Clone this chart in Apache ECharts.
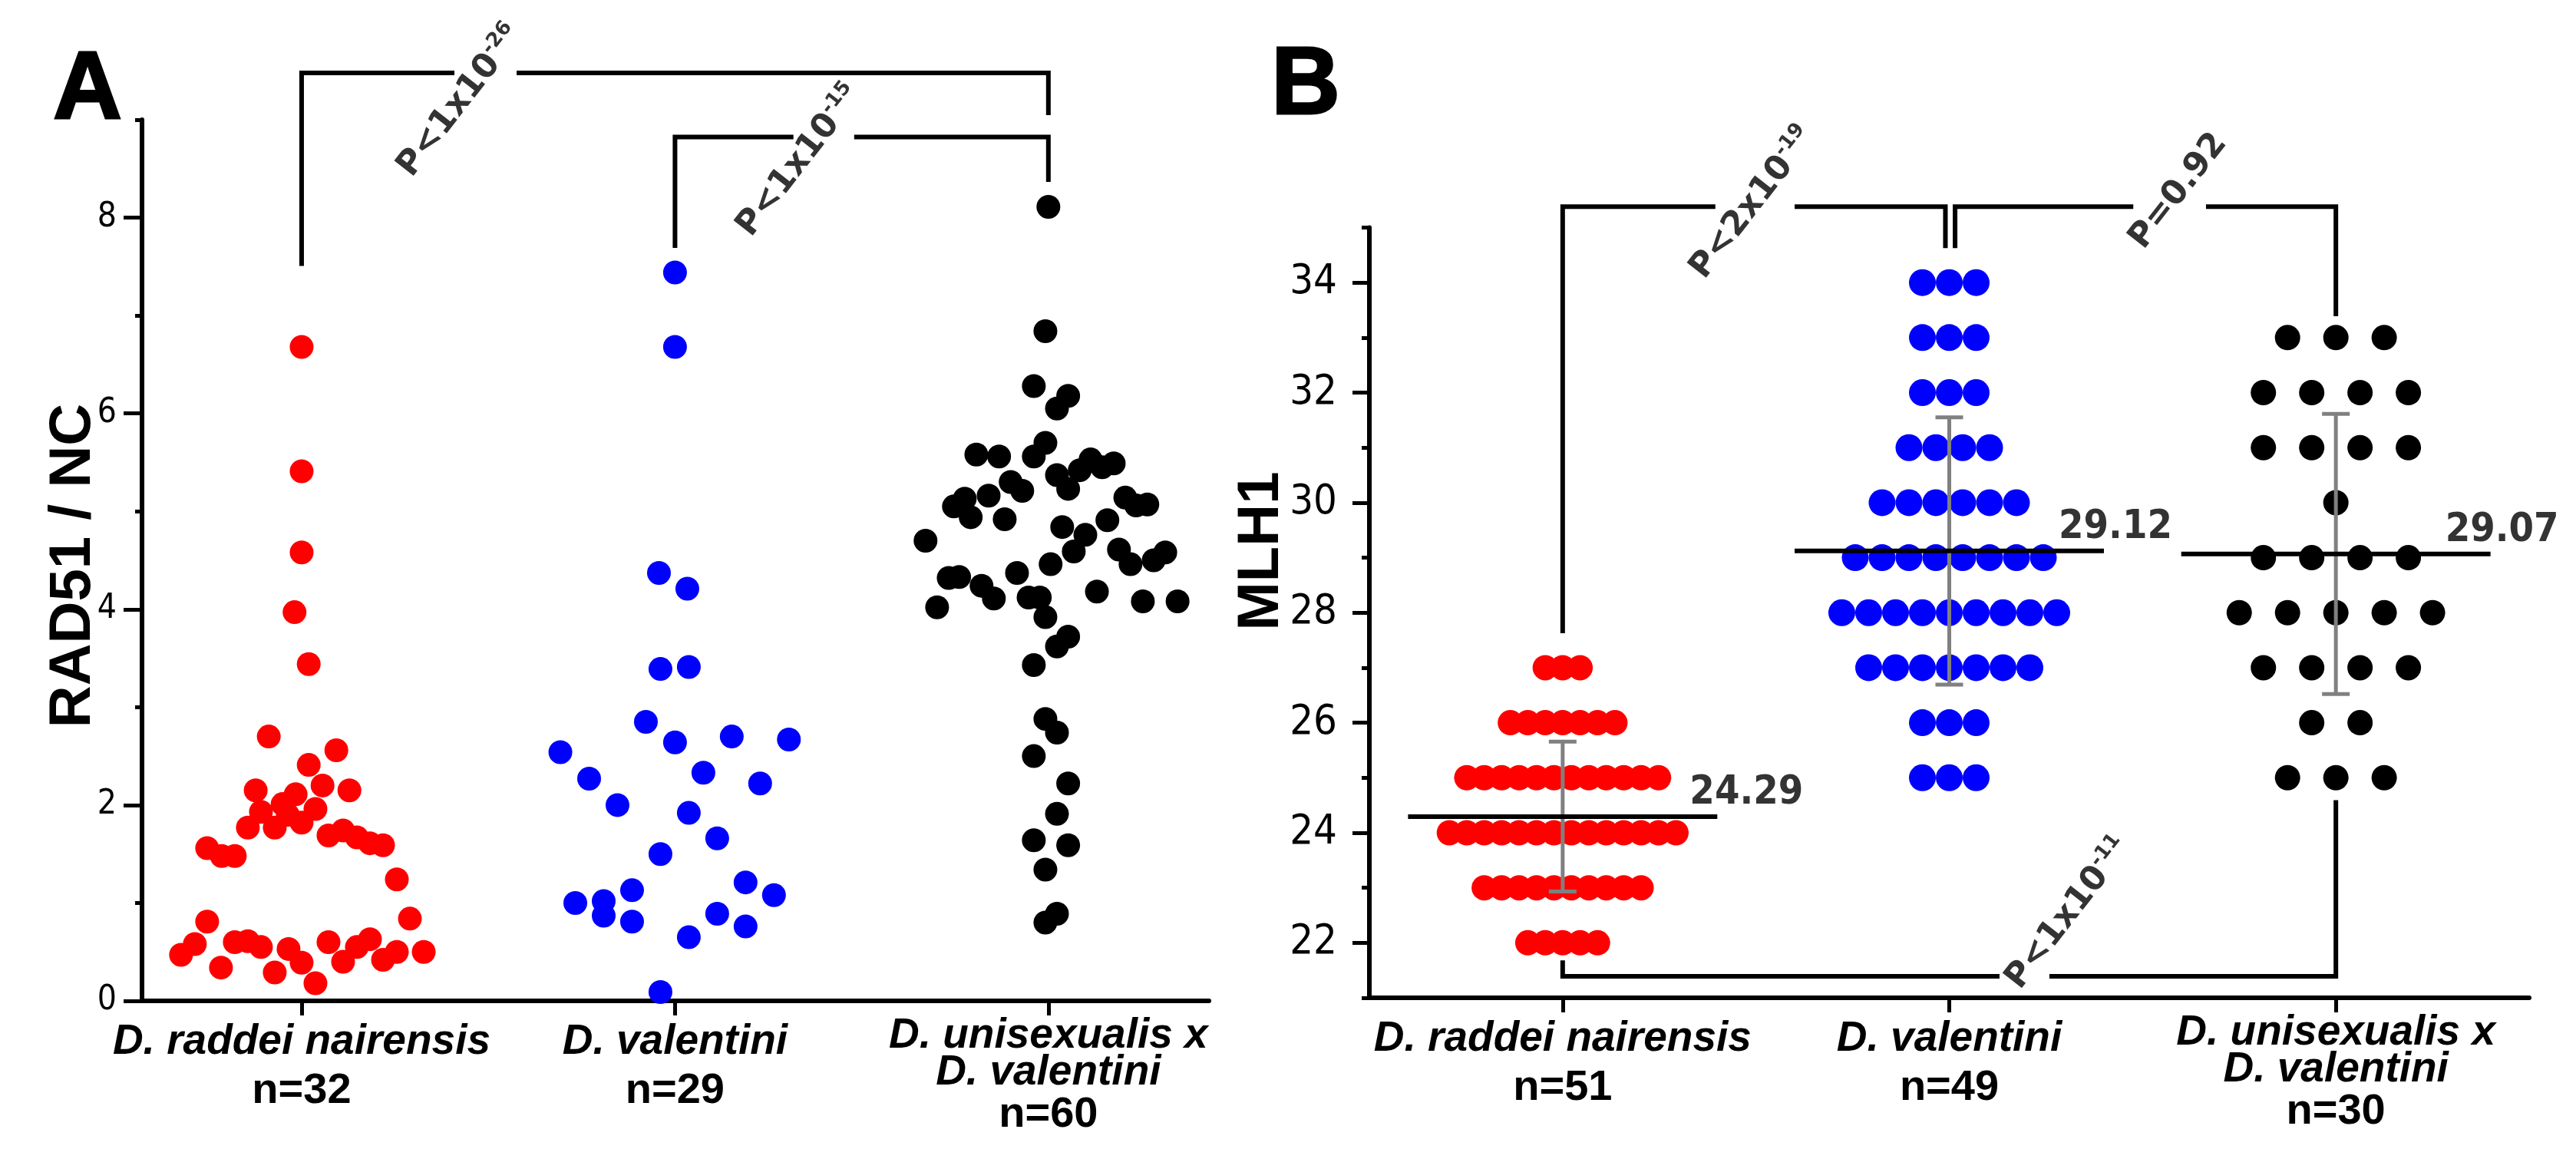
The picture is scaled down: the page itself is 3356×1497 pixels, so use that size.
<!DOCTYPE html>
<html>
<head>
<meta charset="utf-8">
<script src="https://cdn.jsdelivr.net/npm/echarts@6/dist/echarts.min.js"></script>
<style>
html,body{margin:0;padding:0;background:#ffffff;}
#chart{width:3356px;height:1497px;}
</style>
</head>
<body>
<div id="chart"></div>
<script>
// ================= DATA =================
const groupNames = ['D. raddei nairensis', 'D. valentini', 'D. unisexualis x\nD. valentini'];
const rad51N = [32, 29, 60];
const mlh1N = [51, 49, 30];

// Panel A: RAD51 / NC values and horizontal jitter (in category units)
const rad51Raddei = [6.68, 5.41, 4.58, 3.97, 3.44, 2.70, 2.56, 2.41, 2.15, 2.20, 2.15, 2.11, 2.01, 1.96, 1.93,
  1.90, 1.77, 1.77, 1.82, 1.69, 1.74, 1.67, 1.61, 1.59, 1.56, 1.48, 1.48, 1.24, 0.84, 0.81, 0.58, 0.47, 0.60,
  0.61, 0.55, 0.34, 0.53, 0.29, 0.39, 0.18, 0.60, 0.40, 0.55, 0.63, 0.42, 0.50, 0.50];
const rad51RaddeiJitter = [0, 0, 0, -0.019, 0.019, -0.088, 0.093, 0.019, -0.123, 0.056, 0.128, -0.016, -0.051, 0.037, -0.109,
  -0.037, -0.144, -0.072, 0, 0.072, 0.111, 0.148, 0.183, 0.218, -0.253, -0.214, -0.179, 0.255, 0.290, -0.253, -0.286, -0.323, -0.179,
  -0.144, -0.109, -0.216, -0.035, -0.072, 0, 0.037, 0.072, 0.111, 0.148, 0.183, 0.218, 0.255, 0.327];

const rad51Valentini = [7.44, 6.68, 4.37, 4.21, 3.39, 3.41, 2.85, 2.64, 2.70, 2.67, 2.54, 2.27, 2.33, 2.22,
  2.00, 1.92, 1.66, 1.50, 1.13, 1.21, 1.00, 1.02, 0.87, 0.81, 1.08, 0.89, 0.76, 0.65, 0.09];
const rad51ValentiniJitter = [0, 0, -0.043, 0.033, -0.039, 0.037, -0.078, 0, 0.152, 0.305, -0.307, -0.230, 0.076, 0.228,
  -0.154, 0.037, 0.113, -0.039, -0.115, 0.189, -0.267, -0.191, -0.191, -0.115, 0.265, 0.113, 0.189, 0.037, -0.039];

const rad51Hybrid = [8.11, 6.84, 6.28, 6.18, 6.05, 5.70, 5.56, 5.58, 5.56, 5.37,
  5.42, 5.53, 5.45, 5.49, 5.23, 5.30, 5.21, 5.13, 5.05, 4.94,
  5.16, 4.92, 5.14, 5.06, 5.07, 4.91, 4.84, 4.76, 4.59, 4.61,
  4.46, 4.50, 4.58, 4.70, 4.46, 4.37, 4.32, 4.33, 4.24, 4.11,
  4.02, 4.12, 4.12, 4.18, 4.08, 4.08, 3.92, 3.72, 3.62, 3.43,
  2.88, 2.74, 2.50, 2.22, 1.91, 1.64, 1.59, 1.34, 0.89, 0.80];
const rad51HybridJitter = [0, -0.008, -0.039, 0.053, 0.023, -0.008, -0.039, -0.193, -0.132, 0.023,
  0.084, 0.113, 0.144, 0.175, 0.053, -0.101, -0.070, -0.224, -0.253, -0.208,
  -0.160, -0.117, 0.206, 0.235, 0.265, 0.158, 0.037, 0.099, 0.068, 0.189,
  0.220, 0.282, 0.313, -0.329, 0.006, -0.084, -0.267, -0.239, -0.179, -0.146,
  -0.298, -0.053, -0.023, 0.130, 0.253, 0.346, -0.008, 0.053, 0.023, -0.039,
  -0.008, 0.023, -0.039, 0.053, 0.023, -0.039, 0.053, -0.008, 0.023, -0.008];

// Panel B: MLH1 counts (integer levels, number of cells at each level)
const mlh1RaddeiLevels = [22, 23, 24, 25, 26, 27];
const mlh1RaddeiCounts = [5, 10, 14, 12, 7, 3];
const mlh1ValentiniLevels = [25, 26, 27, 28, 29, 30, 31, 32, 33, 34];
const mlh1ValentiniCounts = [3, 3, 7, 9, 8, 6, 4, 3, 3, 3];
const mlh1HybridLevels = [25, 26, 27, 28, 29, 30, 31, 32, 33];
const mlh1HybridCounts = [3, 2, 4, 5, 4, 1, 4, 4, 3];

// Axis tick values
const rad51TickLabels = [0, 2, 4, 6, 8];
const rad51MinorTicks = [1, 3, 5, 7, 9];
const mlh1TickLabels = [22, 24, 26, 28, 30, 32, 34];
const mlh1MinorTicks = [21, 23, 25, 27, 29, 31, 33, 35];

// P-value annotations
const pTextsA = ['P<1x10|-26', 'P<1x10|-15'];
const pTextsB = ['P<2x10|-19', 'P=0.92', 'P<1x10|-11'];

// ================= BUILD =================
const FONT = "'Liberation Sans', Arial, Helvetica, sans-serif";
const NARROW = "'Liberation Sans Narrow', 'Arial Narrow', 'DejaVu Sans Condensed', 'Liberation Sans', sans-serif";
const PFONT = "'DejaVu Sans', Verdana, sans-serif";
const RED = '#ff0000', BLUE = '#0000ff', BLACK = '#000000', GREY = '#808080';

function jittered(center, vals, jit) {
  return vals.map((v, i) => [center + jit[i], v]);
}
function gridRows(center, levels, counts, step) {
  const pts = [];
  levels.forEach((lv, k) => {
    const c = counts[k];
    for (let i = 0; i < c; i++) pts.push([center + (i - (c - 1) / 2) * step, lv]);
  });
  return pts;
}
function expand(levels, counts) {
  const out = [];
  levels.forEach((lv, k) => { for (let i = 0; i < counts[k]; i++) out.push(lv); });
  return out;
}
function meanSd(arr) {
  const m = arr.reduce((a, b) => a + b, 0) / arr.length;
  const v = arr.reduce((a, b) => a + (b - m) * (b - m), 0) / (arr.length - 1);
  return [m, Math.sqrt(v)];
}

const mlhGroups = [
  expand(mlh1RaddeiLevels, mlh1RaddeiCounts),
  expand(mlh1ValentiniLevels, mlh1ValentiniCounts),
  expand(mlh1HybridLevels, mlh1HybridCounts)
];
const mlhStats = mlhGroups.map(meanSd);

function catLabel(nArr) {
  return function (val) {
    const i = Math.round(val) - 1;
    const lines = groupNames[i].split('\n');
    const multi = lines.length > 1;
    const sp = lines.map(l => '{' + (multi ? 'sp2' : 'sp') + '|' + l + '}').join('\n');
    return sp + '\n{' + (multi ? 'n2' : 'n') + '|n=' + nArr[i] + '}';
  };
}
const catRich = {
  sp: {fontFamily: FONT, fontSize: 55, fontWeight: 'bold', fontStyle: 'italic', lineHeight: 64, color: '#000'},
  n: {fontFamily: FONT, fontSize: 56, fontWeight: 'bold', lineHeight: 64, color: '#000'},
  sp2: {fontFamily: FONT, fontSize: 55, fontWeight: 'bold', fontStyle: 'italic', lineHeight: 48, color: '#000'},
  n2: {fontFamily: FONT, fontSize: 56, fontWeight: 'bold', lineHeight: 62, color: '#000'}
};

function xAxisDef(gridIndex, min, max, nArr) {
  return {
    gridIndex, type: 'value', min, max,
    axisLine: {show: true, onZero: false, lineStyle: {color: '#000', width: 6}},
    axisTick: {show: true, customValues: [1, 2, 3], length: 19, lineStyle: {color: '#000', width: 5}},
    axisLabel: {show: true, customValues: [1, 2, 3], margin: 22, formatter: catLabel(nArr), rich: catRich, align: 'center'},
    splitLine: {show: false}
  };
}
function yAxisDef(gridIndex, min, max, labels, fontSize, tickLen, margin) {
  return {
    gridIndex, type: 'value', min, max, position: 'left',
    axisLine: {show: true, onZero: false, lineStyle: {color: '#000', width: 6}},
    axisTick: {show: true, customValues: labels, length: tickLen, lineStyle: {color: '#000', width: 5}},
    axisLabel: {show: true, customValues: labels, fontFamily: NARROW, fontSize, color: '#000', margin},
    splitLine: {show: false}
  };
}
function yMinorDef(gridIndex, min, max, ticks, len) {
  return {
    gridIndex, type: 'value', min, max, position: 'left', offset: 0,
    axisLine: {show: false, onZero: false},
    axisTick: {show: true, customValues: ticks, length: len, lineStyle: {color: '#000', width: 5}},
    axisLabel: {show: false},
    splitLine: {show: false}
  };
}

function seg(xi, yi, pts) {
  return {
    type: 'line', xAxisIndex: xi, yAxisIndex: yi, data: pts, symbol: 'none', clip: false,
    silent: true, animation: false, z: 6,
    lineStyle: {color: '#000', width: 6, join: 'miter', cap: 'square'}
  };
}
function dotSeries(xi, yi, data, color, size) {
  return {
    type: 'scatter', xAxisIndex: xi, yAxisIndex: yi, data, symbol: 'circle', symbolSize: size,
    itemStyle: {color, opacity: 1}, animation: false, z: 2, clip: false
  };
}
function pLabelRich(txt) {
  const parts = txt.split('|');
  return '{m|' + parts[0] + '}' + (parts[1] ? '{s|' + parts[1] + '}' : '');
}
const pRich = {
  m: {fontFamily: PFONT, fontWeight: 'bold', fontSize: 44, lineHeight: 52, color: '#000'},
  s: {fontFamily: PFONT, fontWeight: 'bold', fontSize: 26, lineHeight: 28, verticalAlign: 'top', color: '#000'}
};
function pSeries(xi, yi, anchors, texts) {
  return {
    type: 'scatter', xAxisIndex: xi, yAxisIndex: yi, symbolSize: 0.1, clip: false, silent: true,
    itemStyle: {color: 'rgba(0,0,0,0)'}, animation: false, z: 7,
    data: anchors.map((a, i) => ({value: a, label: {formatter: pLabelRich(texts[i])}})),
    label: {show: true, position: 'inside', rotate: 52, rich: pRich}
  };
}

// bracket geometry (data coordinates) for annotations
const bracketsA = [
  [[1, 7.53], [1, 9.478], [1.403, 9.478]],
  [[1.582, 9.478], [3, 9.478], [3, 9.07]],
  [[2, 7.714], [2, 8.823], [2.311, 8.823]],
  [[2.486, 8.823], [3, 8.823], [3, 8.388]]
];
const bracketsB = [
  [[1, 27.67], [1, 35.38], [1.389, 35.38]],
  [[1.606, 35.38], [1.99, 35.38], [1.99, 34.67]],
  [[2.015, 34.67], [2.015, 35.38], [2.47, 35.38]],
  [[2.67, 35.38], [3, 35.38], [3, 33.43]],
  [[1, 21.64], [1, 21.39], [2.124, 21.39]],
  [[2.265, 21.39], [3, 21.39], [3, 24.55]]
];
const pAnchorsA = [[1.4255, 9.188], [2.334, 8.577]];
const pAnchorsB = [[1.4925, 35.44], [2.593, 35.66], [2.309, 22.53]];

const series = [
  dotSeries(0, 0, jittered(1, rad51Raddei, rad51RaddeiJitter), RED, 31),
  dotSeries(0, 0, jittered(2, rad51Valentini, rad51ValentiniJitter), BLUE, 31),
  dotSeries(0, 0, jittered(3, rad51Hybrid, rad51HybridJitter), BLACK, 31),
  dotSeries(1, 1, gridRows(1, mlh1RaddeiLevels, mlh1RaddeiCounts, 0.0451), RED, 33),
  dotSeries(1, 1, gridRows(2, mlh1ValentiniLevels, mlh1ValentiniCounts, 0.0695), BLUE, 35),
  dotSeries(1, 1, gridRows(3, mlh1HybridLevels, mlh1HybridCounts, 0.125), BLACK, 33),
  {
    type: 'custom', xAxisIndex: 1, yAxisIndex: 1, z: 4, silent: true, animation: false,
    data: mlhStats.map((s, i) => [i + 1, s[0] - s[1], s[0] + s[1]]),
    encode: {x: 0, y: [1, 2]},
    renderItem: function (params, api) {
      const x = api.value(0);
      const lo = api.coord([x, api.value(1)]);
      const hi = api.coord([x, api.value(2)]);
      const hw = 18;
      const st = {stroke: GREY, lineWidth: 5};
      return {type: 'group', children: [
        {type: 'line', shape: {x1: lo[0], y1: lo[1], x2: hi[0], y2: hi[1]}, style: st},
        {type: 'line', shape: {x1: lo[0] - hw, y1: lo[1], x2: lo[0] + hw, y2: lo[1]}, style: st},
        {type: 'line', shape: {x1: hi[0] - hw, y1: hi[1], x2: hi[0] + hw, y2: hi[1]}, style: st}
      ]};
    }
  }
];
mlhStats.forEach((s, i) => {
  series.push({
    type: 'line', xAxisIndex: 1, yAxisIndex: 1, symbol: 'none', silent: true, animation: false, z: 5,
    data: [[i + 1 - 0.4, s[0]], [i + 1 + 0.4, s[0]]],
    lineStyle: {color: '#000', width: 6}
  });
});
series.push({
  type: 'scatter', xAxisIndex: 1, yAxisIndex: 1, symbolSize: 0.1, silent: true, animation: false, z: 7,
  itemStyle: {color: 'rgba(0,0,0,0)'},
  data: mlhStats.map((s, i) => ({
    value: [i + 1 + 0.4, s[0]],
    label: {offset: [i === 0 ? -36 : -59, -30]}
  })),
  label: {
    show: true, position: 'right', distance: 0,
    formatter: p => p.value[1].toFixed(2),
    fontFamily: NARROW, fontWeight: 'bold', fontSize: 52, color: '#000'
  }
});
bracketsA.forEach(b => series.push(seg(0, 0, b)));
bracketsB.forEach(b => series.push(seg(1, 1, b)));
series.push(pSeries(0, 0, pAnchorsA, pTextsA));
series.push(pSeries(1, 1, pAnchorsB, pTextsB));

const option = {
  backgroundColor: '#ffffff',
  animation: false,
  grid: [
    {left: 185, top: 156, width: 1390, height: 1148},
    {left: 1784, top: 296.5, width: 1511, height: 1003.5}
  ],
  xAxis: [
    xAxisDef(0, 0.5725, 3.43, rad51N),
    xAxisDef(1, 0.5, 3.5, mlh1N)
  ],
  yAxis: [
    yAxisDef(0, 0, 9, rad51TickLabels, 44, 24, 33),
    yAxisDef(1, 21, 35, mlh1TickLabels, 54, 22, 42),
    yMinorDef(0, 0, 9, rad51MinorTicks, 9),
    yMinorDef(1, 21, 35, mlh1MinorTicks, 10)
  ],
  graphic: [
    {type: 'text', x: 114, y: 120, style: {text: 'A', fontFamily: FONT, fontWeight: 'bold', fontSize: 124, fill: '#000', stroke: '#000', lineWidth: 3, align: 'center', verticalAlign: 'middle'}},
    {type: 'text', x: 1701, y: 114, style: {text: 'B', fontFamily: FONT, fontWeight: 'bold', fontSize: 124, fill: '#000', stroke: '#000', lineWidth: 3, align: 'center', verticalAlign: 'middle'}},
    {type: 'text', x: 96, y: 737, rotation: Math.PI / 2, style: {text: 'RAD51 / NC', fontFamily: FONT, fontWeight: 'bold', fontSize: 76, fill: '#000', align: 'center', verticalAlign: 'middle'}},
    {type: 'text', x: 1644, y: 718, rotation: Math.PI / 2, style: {text: 'MLH1', fontFamily: FONT, fontWeight: 'bold', fontSize: 76, fill: '#000', align: 'center', verticalAlign: 'middle'}}
  ],
  series
};

const chart = echarts.init(document.getElementById('chart'), null, {renderer: 'canvas'});
chart.setOption(option);
</script>
</body>
</html>
